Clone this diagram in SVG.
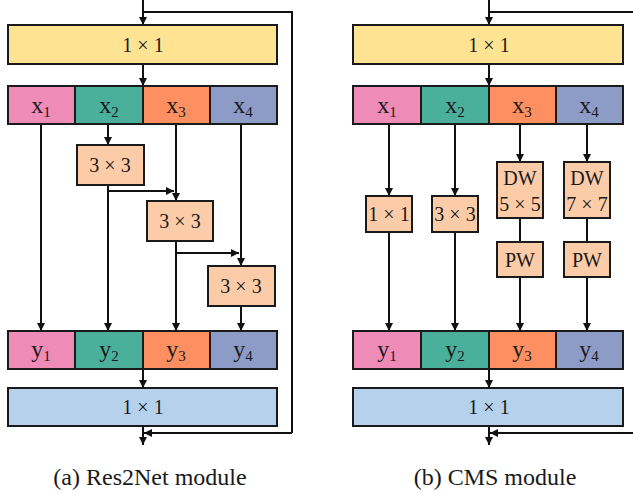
<svg xmlns="http://www.w3.org/2000/svg" width="633" height="494" viewBox="0 0 633 494">
<defs>
<marker id="arr" viewBox="0 0 10 10" refX="10" refY="5" markerWidth="8" markerHeight="8" orient="auto" markerUnits="userSpaceOnUse">
<path d="M0,0 L10,5 L0,10 Z" fill="#111"/>
</marker>
<style>
.box{stroke:#1a1a1a;stroke-width:2}
.yel{fill:#FDE392}
.pink{fill:#EE8BB7}
.teal{fill:#4BB09B}
.org{fill:#FD8F60}
.pur{fill:#8D9CC7}
.peach{fill:#FCCCA9}
.lb{fill:#B5D1EB}
.t{font-family:"Liberation Serif","Times New Roman",serif;font-size:20px;fill:#1a1a1a;text-anchor:middle}
.v{font-size:24px}
.sub{font-size:15px}
.cap{font-family:"Liberation Serif","Times New Roman",serif;font-size:24px;fill:#1a1a1a;text-anchor:middle}
.ln{stroke:#111;stroke-width:2;fill:none}
.a{marker-end:url(#arr)}
</style>
</defs>
<rect width="633" height="494" fill="#fff"/>

<g id="connectors">
<!-- left panel -->
<line class="ln a" x1="143" y1="0" x2="143" y2="25"/>
<polyline class="ln" points="143,12 292,12 292,433"/>
<line class="ln a" x1="292" y1="433" x2="144" y2="433"/>
<line class="ln a" x1="143" y1="64" x2="143" y2="86"/>
<line class="ln a" x1="41" y1="124" x2="41" y2="331"/>
<line class="ln a" x1="108" y1="124" x2="108" y2="145"/>
<line class="ln a" x1="108" y1="185" x2="108" y2="331"/>
<line class="ln a" x1="108" y1="191" x2="174" y2="191"/>
<line class="ln a" x1="176" y1="124" x2="176" y2="201"/>
<line class="ln a" x1="176" y1="241" x2="176" y2="331"/>
<line class="ln a" x1="176" y1="253" x2="239" y2="253"/>
<line class="ln a" x1="241" y1="124" x2="241" y2="266"/>
<line class="ln a" x1="241" y1="306" x2="241" y2="331"/>
<line class="ln a" x1="143" y1="369" x2="143" y2="388"/>
<line class="ln a" x1="143" y1="426" x2="143" y2="445"/>
<!-- right panel -->
<line class="ln a" x1="489" y1="0" x2="489" y2="25"/>
<line class="ln" x1="489" y1="12" x2="633" y2="12"/>
<line class="ln a" x1="633" y1="433" x2="490" y2="433"/>
<line class="ln a" x1="489" y1="64" x2="489" y2="86"/>
<line class="ln a" x1="389" y1="124" x2="389" y2="196"/>
<line class="ln a" x1="389" y1="232" x2="389" y2="331"/>
<line class="ln a" x1="455" y1="124" x2="455" y2="196"/>
<line class="ln a" x1="455" y1="232" x2="455" y2="331"/>
<line class="ln a" x1="520" y1="124" x2="520" y2="162"/>
<line class="ln" x1="520" y1="218" x2="520" y2="242"/>
<line class="ln a" x1="520" y1="277" x2="520" y2="331"/>
<line class="ln a" x1="587" y1="124" x2="587" y2="162"/>
<line class="ln" x1="587" y1="218" x2="587" y2="242"/>
<line class="ln a" x1="587" y1="277" x2="587" y2="331"/>
<line class="ln a" x1="489" y1="369" x2="489" y2="388"/>
<line class="ln a" x1="489" y1="426" x2="489" y2="445"/>
</g>

<!-- Left panel nodes -->
<g id="a-conv1">
<rect class="box yel" x="8" y="25" width="269" height="39"/>
<text class="t" x="143" y="52">1 × 1</text>
</g>
<g id="a-x">
<rect class="box pink" x="8" y="86" width="67" height="38"/>
<rect class="box teal" x="75" y="86" width="68" height="38"/>
<rect class="box org" x="143" y="86" width="67" height="38"/>
<rect class="box pur" x="210" y="86" width="67" height="38"/>
<text class="t v" x="41" y="113">x<tspan class="sub" dy="4">1</tspan></text>
<text class="t v" x="109" y="113">x<tspan class="sub" dy="4">2</tspan></text>
<text class="t v" x="176" y="113">x<tspan class="sub" dy="4">3</tspan></text>
<text class="t v" x="243" y="113">x<tspan class="sub" dy="4">4</tspan></text>
</g>
<g id="a-k1">
<rect class="box peach" x="77" y="145" width="67" height="40"/>
<text class="t" x="110" y="172">3 × 3</text>
</g>
<g id="a-k2">
<rect class="box peach" x="147" y="201" width="66" height="40"/>
<text class="t" x="180" y="228">3 × 3</text>
</g>
<g id="a-k3">
<rect class="box peach" x="208" y="266" width="67" height="40"/>
<text class="t" x="241" y="293">3 × 3</text>
</g>
<g id="a-y">
<rect class="box pink" x="8" y="331" width="67" height="38"/>
<rect class="box teal" x="75" y="331" width="68" height="38"/>
<rect class="box org" x="143" y="331" width="67" height="38"/>
<rect class="box pur" x="210" y="331" width="67" height="38"/>
<text class="t v" x="41" y="357">y<tspan class="sub" dy="4">1</tspan></text>
<text class="t v" x="109" y="357">y<tspan class="sub" dy="4">2</tspan></text>
<text class="t v" x="176" y="357">y<tspan class="sub" dy="4">3</tspan></text>
<text class="t v" x="243" y="357">y<tspan class="sub" dy="4">4</tspan></text>
</g>
<g id="a-conv2">
<rect class="box lb" x="8" y="388" width="269" height="38"/>
<text class="t" x="143" y="414">1 × 1</text>
</g>
<text class="cap" x="150" y="485">(a) Res2Net module</text>

<!-- Right panel nodes -->
<g id="b-conv1">
<rect class="box yel" x="353" y="25" width="270" height="39"/>
<text class="t" x="489" y="52">1 × 1</text>
</g>
<g id="b-x">
<rect class="box pink" x="353" y="86" width="68" height="38"/>
<rect class="box teal" x="421" y="86" width="68" height="38"/>
<rect class="box org" x="489" y="86" width="67" height="38"/>
<rect class="box pur" x="556" y="86" width="67" height="38"/>
<text class="t v" x="387" y="113">x<tspan class="sub" dy="4">1</tspan></text>
<text class="t v" x="455" y="113">x<tspan class="sub" dy="4">2</tspan></text>
<text class="t v" x="522" y="113">x<tspan class="sub" dy="4">3</tspan></text>
<text class="t v" x="589" y="113">x<tspan class="sub" dy="4">4</tspan></text>
</g>
<g id="b-c1">
<rect class="box peach" x="366" y="196" width="46" height="36"/>
<text class="t" x="389" y="221">1 × 1</text>
</g>
<g id="b-c3">
<rect class="box peach" x="432" y="196" width="46" height="36"/>
<text class="t" x="455" y="221">3 × 3</text>
</g>
<g id="b-dw5">
<rect class="box peach" x="497" y="162" width="46" height="56"/>
<text class="t" x="520" y="185">DW</text>
<text class="t" x="520" y="211">5 × 5</text>
</g>
<g id="b-dw7">
<rect class="box peach" x="564" y="162" width="46" height="56"/>
<text class="t" x="587" y="185">DW</text>
<text class="t" x="587" y="211">7 × 7</text>
</g>
<g id="b-pw1">
<rect class="box peach" x="497" y="242" width="46" height="35"/>
<text class="t" x="520" y="267">PW</text>
</g>
<g id="b-pw2">
<rect class="box peach" x="564" y="242" width="46" height="35"/>
<text class="t" x="587" y="267">PW</text>
</g>
<g id="b-y">
<rect class="box pink" x="353" y="331" width="68" height="38"/>
<rect class="box teal" x="421" y="331" width="68" height="38"/>
<rect class="box org" x="489" y="331" width="67" height="38"/>
<rect class="box pur" x="556" y="331" width="67" height="38"/>
<text class="t v" x="387" y="357">y<tspan class="sub" dy="4">1</tspan></text>
<text class="t v" x="455" y="357">y<tspan class="sub" dy="4">2</tspan></text>
<text class="t v" x="522" y="357">y<tspan class="sub" dy="4">3</tspan></text>
<text class="t v" x="589" y="357">y<tspan class="sub" dy="4">4</tspan></text>
</g>
<g id="b-conv2">
<rect class="box lb" x="353" y="388" width="270" height="38"/>
<text class="t" x="489" y="414">1 × 1</text>
</g>
<text class="cap" x="495" y="485">(b) CMS module</text>
</svg>
